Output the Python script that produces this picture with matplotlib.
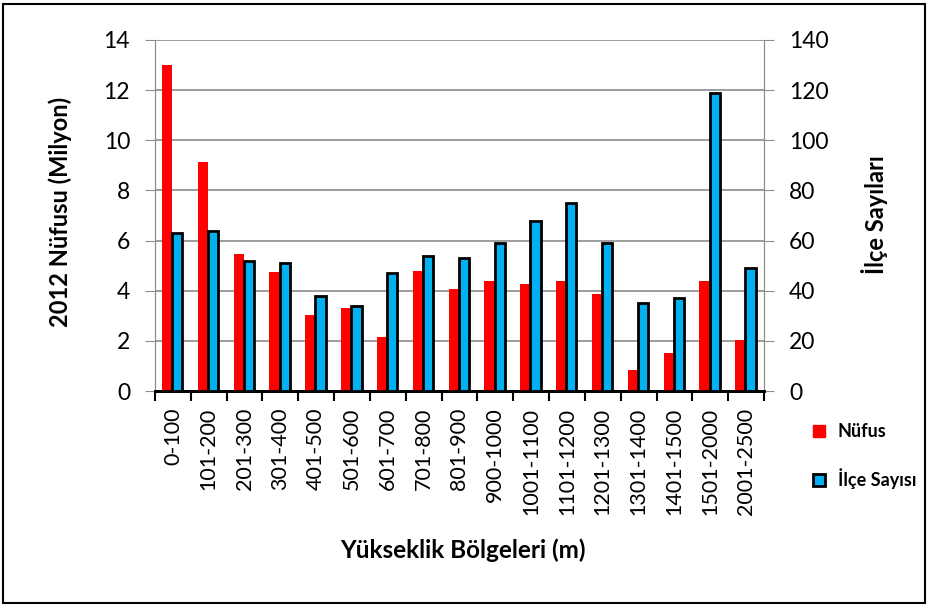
import numpy as np
import matplotlib.pyplot as plt
from matplotlib.patches import Rectangle

# Elevation zones
zones = ['0-100', '101-200', '201-300', '301-400', '401-500', '501-600',
         '601-700', '701-800', '801-900', '900-1000', '1001-1100',
         '1101-1200', '1201-1300', '1301-1400', '1401-1500', '1501-2000',
         '2001-2500']
# 2012 population (millions)
nufus = [13.0, 9.15, 5.45, 4.75, 3.05, 3.3, 2.15, 4.8, 4.05, 4.4, 4.25,
         4.4, 3.85, 0.85, 1.5, 4.4, 2.05]
# number of districts
ilce = [63, 64, 52, 51, 38, 34, 47, 54, 53, 59, 68, 75, 59, 35, 37, 119, 49]

plt.rcParams['font.family'] = ['Lato', 'DejaVu Sans']

W, H = 928, 605
fig = plt.figure(figsize=(W/100, H/100), dpi=100)
fig.patches.append(Rectangle((0.003, 0.004), 0.994, 0.99, transform=fig.transFigure,
                             fill=False, edgecolor='black', linewidth=1.5))

ax = fig.add_axes([155/W, 1-391/H, (764-155)/W, (391-40)/H])
ax2 = ax.twinx()

x = np.arange(len(zones))
w = 0.285
ax.bar(x - w/2 - 0.02, nufus, width=w, color='#ff0000', zorder=3)
ax2.bar(x + w/2 - 0.02, ilce, width=w, color='#00b0f0', edgecolor='black',
        linewidth=2, zorder=3)

ax.set_xlim(-0.5, len(zones) - 0.5)
ax.set_ylim(0, 14)
ax2.set_ylim(0, 140)
ax.set_yticks(np.arange(0, 15, 2))
ax2.set_yticks(np.arange(0, 141, 20))
ax.yaxis.grid(True, color='#8c8c8c', linewidth=1.2, zorder=0)
ax.set_axisbelow(True)

ax.set_xticks(x)
ax.set_xticklabels(zones, rotation=90, fontsize=15.5)
ax.set_xticks(np.arange(-0.5, len(zones)), minor=True)
ax.tick_params(axis='x', which='major', length=0, pad=12)
ax.tick_params(axis='x', which='minor', length=7, width=1.5, direction='out')
ax.tick_params(axis='y', labelsize=16.5, length=7, color='#8c8c8c', pad=11)
ax2.tick_params(axis='y', labelsize=16.5, length=7, color='#8c8c8c', pad=11)

for a in (ax, ax2):
    a.spines['top'].set_visible(False)
    a.spines['left'].set_color('#8c8c8c')
    a.spines['right'].set_color('#8c8c8c')
    a.spines['bottom'].set_color('black')
    a.spines['bottom'].set_linewidth(2)

fig.text(60/W, 1-212/H, '2012 Nüfusu (Milyon)', rotation=90, ha='center', va='center',
         fontsize=17, fontweight='bold')
fig.text(875/W, 1-215/H, 'İlçe Sayıları', rotation=90, ha='center', va='center',
         fontsize=17, fontweight='bold')
fig.text(463/W, 1-550/H, 'Yükseklik Bölgeleri (m)', ha='center', va='center',
         fontsize=17.5, fontweight='bold')

h1 = Rectangle((0, 0), 1, 1, color='#ff0000')
h2 = Rectangle((0, 0), 1, 1, facecolor='#00b0f0', edgecolor='black', linewidth=2)
fig.legend([h1, h2], ['Nüfus', 'İlçe Sayısı'], loc='center left',
           bbox_to_anchor=(797/W, 1-456/H), frameon=False,
           prop={'weight': 'bold', 'size': 13}, handlelength=0.65, handleheight=0.65,
           labelspacing=1.55, handletextpad=0.7)

fig.savefig('out.png', dpi=100)
